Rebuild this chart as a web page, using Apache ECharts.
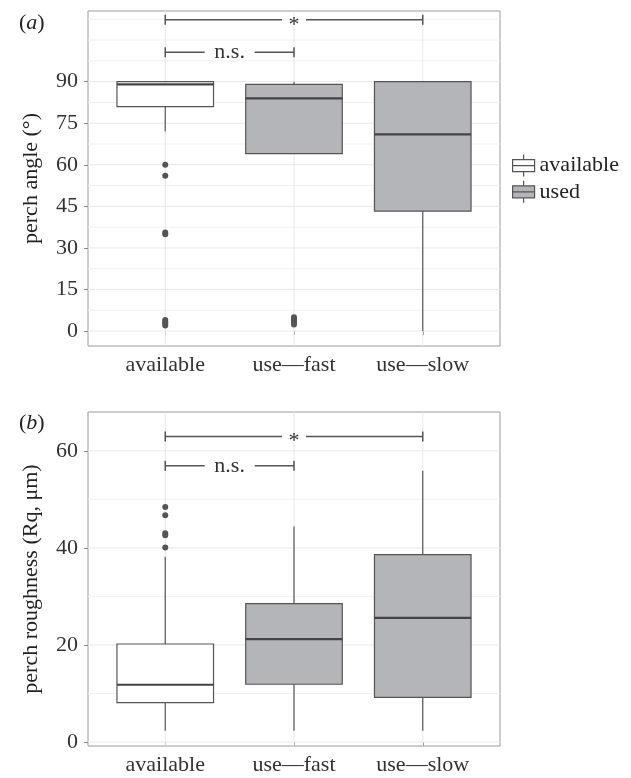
<!DOCTYPE html>
<html lang="en">
<head>
    <meta charset="UTF-8">
    <title>perch angle / roughness</title>
    <script src="https://cdn.jsdelivr.net/npm/echarts@6/dist/echarts.min.js"></script>
    <style>
        html, body { margin: 0; padding: 0; background: #fff; }
    </style>
</head>
<body>
    <div id="chart" style="width: 631px; height: 778px;"></div>

    <script>
        // categories and x positions
        var categories = ['available', 'use\u2014fast', 'use\u2014slow'];
        var catX = [1, 2, 3];

        // boxes: [x, lower whisker, Q1, median, Q3, upper whisker]
        var angleAvailable = [[1, 72, 81, 89, 90, 90]];
        var angleUsed = [[2, 64, 64, 84, 89, 90], [3, 0, 43.3, 71, 90, 90]];
        var roughAvailable = [[1, 2.3, 8.1, 11.8, 20.2, 38.2]];
        var roughUsed = [[2, 2.3, 11.9, 21.2, 28.5, 44.4], [3, 2.3, 9.2, 25.6, 38.6, 55.9]];

        // outliers: [x, value]
        var angleOutliers = [
            [1, 60], [1, 56], [1, 35.6], [1, 34.9], [1, 4], [1, 3.3], [1, 2.7], [1, 2],
            [2, 5], [2, 4.4], [2, 3.8], [2, 3.1], [2, 2.4]
        ];
        var roughOutliers = [[1, 48.4], [1, 46.7], [1, 43], [1, 42.6], [1, 40.1]];

        // significance brackets: [from, to, y]
        var angleSig = [[1, 2, 100.6], [1, 3, 112.3]];
        var roughSig = [[1, 2, 56.9], [1, 3, 62.95]];
        var sigLabels = ['n.s.', '*'];

        // tick labels and grid lines
        var angleTicks = [0, 15, 30, 45, 60, 75, 90];
        var angleGridY = [0, 7.5, 15, 22.5, 30, 37.5, 45, 52.5, 60, 67.5, 75, 82.5, 90, 97.5, 105, 112.5];
        var roughTicks = [0, 20, 40, 60];
        var roughGridY = [0, 10, 20, 30, 40, 50, 60];

        var FONT = 'Liberation Serif';
        var FS = 22;
        var INK = '#555';
        var boxHalf = 0.375;

        var chart = echarts.init(document.getElementById('chart'), null, { renderer: 'canvas' });

        function renderBox(params, api) {
            var x = api.value(0);
            var lo = api.coord([x, api.value(1)]);
            var q1 = api.coord([x, api.value(2)]);
            var med = api.coord([x, api.value(3)]);
            var q3 = api.coord([x, api.value(4)]);
            var hi = api.coord([x, api.value(5)]);
            var l = api.coord([x - boxHalf, api.value(3)])[0];
            var r = api.coord([x + boxHalf, api.value(3)])[0];
            return {
                type: 'group',
                children: [
                    { type: 'line', shape: { x1: lo[0], y1: lo[1], x2: q1[0], y2: q1[1] }, style: { stroke: INK, lineWidth: 1.2 } },
                    { type: 'line', shape: { x1: hi[0], y1: hi[1], x2: q3[0], y2: q3[1] }, style: { stroke: INK, lineWidth: 1.2 } },
                    { type: 'rect', shape: { x: l, y: q3[1], width: r - l, height: q1[1] - q3[1] },
                      style: { fill: api.visual('color'), stroke: INK, lineWidth: 1.2 } },
                    { type: 'line', shape: { x1: l, y1: med[1], x2: r, y2: med[1] }, style: { stroke: '#444', lineWidth: 2.2 } }
                ]
            };
        }

        function renderSig(params, api) {
            var p1 = api.coord([api.value(0), api.value(2)]);
            var p2 = api.coord([api.value(1), api.value(2)]);
            var label = sigLabels[params.dataIndex];
            var mid = (p1[0] + p2[0]) / 2;
            var gap = label === '*' ? 12 : 25;
            var st = { stroke: INK, lineWidth: 1.5 };
            return {
                type: 'group',
                children: [
                    { type: 'line', shape: { x1: p1[0], y1: p1[1], x2: mid - gap, y2: p1[1] }, style: st },
                    { type: 'line', shape: { x1: mid + gap, y1: p1[1], x2: p2[0], y2: p2[1] }, style: st },
                    { type: 'line', shape: { x1: p1[0], y1: p1[1] - 5, x2: p1[0], y2: p1[1] + 5 }, style: st },
                    { type: 'line', shape: { x1: p2[0], y1: p2[1] - 5, x2: p2[0], y2: p2[1] + 5 }, style: st },
                    { type: 'text', x: mid, y: p1[1] + (label === '*' ? 5 : 0),
                      style: { text: label, align: 'center', verticalAlign: 'middle',
                               font: FS + 'px "Liberation Serif"', fill: '#333' } }
                ]
            };
        }

        function gridLines(values, ticks) {
            // horizontal lines across the panel, vertical ones at categories
            var data = [];
            values.forEach(function (v) { data.push([0, v, ticks.indexOf(v) >= 0 ? 1 : 0]); });
            catX.forEach(function (c) { data.push([1, c, 1]); });
            return data;
        }

        function renderGrid(params, api) {
            var kind = api.value(0), v = api.value(1);
            var color = api.value(2) ? '#e8e8e8' : '#f1f1f1';
            var cs = params.coordSys;
            if (kind === 0) {
                var y = api.coord([1, v])[1];
                return { type: 'line', shape: { x1: cs.x, y1: y, x2: cs.x + cs.width, y2: y }, style: { stroke: color, lineWidth: 1 } };
            }
            var x = api.coord([v, 0])[0];
            return { type: 'line', shape: { x1: x, y1: cs.y, x2: x, y2: cs.y + cs.height }, style: { stroke: color, lineWidth: 1 } };
        }

        function xAxisFor(gridIndex) {
            return {
                type: 'value', gridIndex: gridIndex, min: 0.4, max: 3.6,
                axisLine: { show: false },
                splitLine: { show: false },
                axisTick: { show: true, customValues: catX, length: 4, lineStyle: { color: '#888' } },
                axisLabel: {
                    customValues: catX, margin: 8,
                    fontFamily: FONT, fontSize: FS, color: '#333',
                    formatter: function (v) { return categories[Math.round(v) - 1]; }
                }
            };
        }

        function yAxisFor(gridIndex, min, max, ticks, name) {
            return {
                type: 'value', gridIndex: gridIndex, min: min, max: max,
                name: name, nameLocation: 'middle', nameGap: 46,
                nameTextStyle: { fontFamily: FONT, fontSize: FS, color: '#222' },
                axisLine: { show: false },
                splitLine: { show: false },
                axisTick: { show: true, customValues: ticks, length: 4, lineStyle: { color: '#888' } },
                axisLabel: { customValues: ticks, margin: 10, fontFamily: FONT, fontSize: FS, color: '#333' }
            };
        }

        var panelLabel = function (letter, top) {
            return {
                text: '{n|(}{i|' + letter + '}{n|)}',
                left: 14, top: top,
                textStyle: {
                    fontWeight: 'normal',
                    rich: {
                        n: { fontFamily: FONT, fontSize: FS, fontWeight: 'normal', color: '#222' },
                        i: { fontFamily: FONT, fontSize: FS, fontWeight: 'normal', fontStyle: 'italic', color: '#222' }
                    }
                }
            };
        };

        var legendIcon = 'path://M11,0L11,5M0,5H22V11H0ZM0,11H22V17H0ZM11,17L11,22';

        var option = {
            backgroundColor: '#fff',
            animation: false,
            title: [panelLabel('a', 7), panelLabel('b', 407)],
            legend: {
                orient: 'vertical', left: 507, top: 149,
                itemWidth: 22, itemHeight: 22, itemGap: 3,
                icon: legendIcon,
                textStyle: { fontFamily: FONT, fontSize: FS, color: '#222' },
                data: [
                    { name: 'available', itemStyle: { color: '#fff', borderColor: INK, borderWidth: 1.2 } },
                    { name: 'used', itemStyle: { color: '#b4b5b9', borderColor: INK, borderWidth: 1.2 } }
                ]
            },
            grid: [
                { left: 88, top: 11, width: 412, height: 335, show: true, borderColor: '#9a9a9a', borderWidth: 1, backgroundColor: 'transparent' },
                { left: 88, top: 412, width: 412, height: 334, show: true, borderColor: '#9a9a9a', borderWidth: 1, backgroundColor: 'transparent' }
            ],
            xAxis: [xAxisFor(0), xAxisFor(1)],
            yAxis: [
                yAxisFor(0, -5.4, 115.5, angleTicks, 'perch angle (\u00b0)'),
                yAxisFor(1, -0.82, 68, roughTicks, 'perch roughness (Rq, \u03bcm)')
            ],
            series: [
                { type: 'custom', xAxisIndex: 0, yAxisIndex: 0, z: 1, silent: true, renderItem: renderGrid,
                  data: gridLines(angleGridY, angleTicks), encode: { x: -1, y: -1 } },
                { type: 'custom', xAxisIndex: 1, yAxisIndex: 1, z: 1, silent: true, renderItem: renderGrid,
                  data: gridLines(roughGridY, roughTicks), encode: { x: -1, y: -1 } },

                { name: 'available', type: 'custom', xAxisIndex: 0, yAxisIndex: 0, z: 3,
                  itemStyle: { color: '#fff' }, renderItem: renderBox, data: angleAvailable,
                  encode: { x: 0, y: [1, 2, 3, 4, 5] } },
                { name: 'used', type: 'custom', xAxisIndex: 0, yAxisIndex: 0, z: 3,
                  itemStyle: { color: '#b4b5b9' }, renderItem: renderBox, data: angleUsed,
                  encode: { x: 0, y: [1, 2, 3, 4, 5] } },
                { name: 'available', type: 'custom', xAxisIndex: 1, yAxisIndex: 1, z: 3,
                  itemStyle: { color: '#fff' }, renderItem: renderBox, data: roughAvailable,
                  encode: { x: 0, y: [1, 2, 3, 4, 5] } },
                { name: 'used', type: 'custom', xAxisIndex: 1, yAxisIndex: 1, z: 3,
                  itemStyle: { color: '#b4b5b9' }, renderItem: renderBox, data: roughUsed,
                  encode: { x: 0, y: [1, 2, 3, 4, 5] } },

                { type: 'scatter', xAxisIndex: 0, yAxisIndex: 0, z: 4, symbolSize: 6,
                  itemStyle: { color: '#555', opacity: 1 }, data: angleOutliers },
                { type: 'scatter', xAxisIndex: 1, yAxisIndex: 1, z: 4, symbolSize: 6,
                  itemStyle: { color: '#555', opacity: 1 }, data: roughOutliers },

                { type: 'custom', xAxisIndex: 0, yAxisIndex: 0, z: 5, renderItem: renderSig, data: angleSig,
                  encode: { x: [0, 1], y: 2 } },
                { type: 'custom', xAxisIndex: 1, yAxisIndex: 1, z: 5, renderItem: renderSig, data: roughSig,
                  encode: { x: [0, 1], y: 2 } }
            ]
        };

        chart.setOption(option);
    </script>
</body>
</html>
